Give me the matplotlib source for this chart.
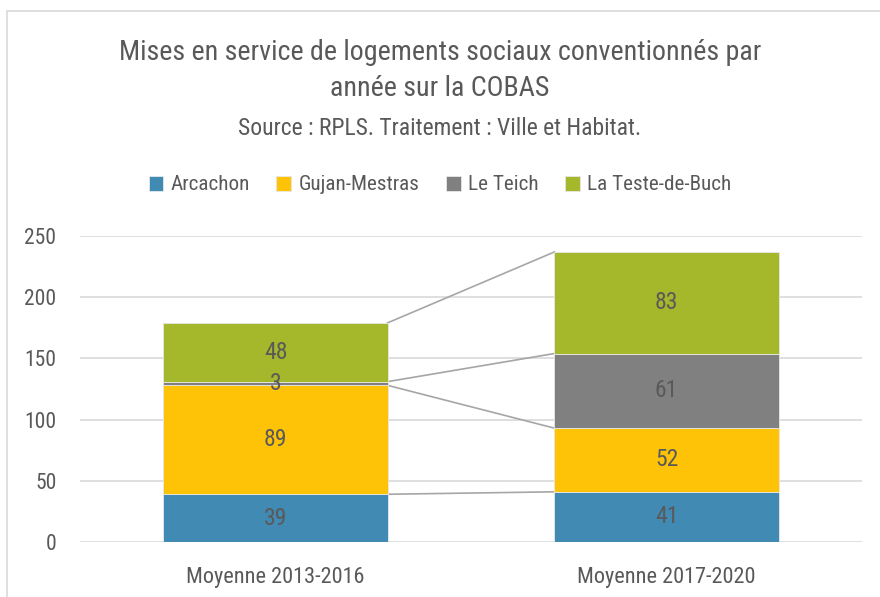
import numpy as np
import matplotlib.pyplot as plt
from matplotlib.patches import Rectangle

plt.rcParams['font.family'] = ['Roboto Condensed', 'Liberation Sans Narrow',
                               'Liberation Sans', 'DejaVu Sans']

categories = ['Moyenne 2013-2016', 'Moyenne 2017-2020']
series = ['Arcachon', 'Gujan-Mestras', 'Le Teich', 'La Teste-de-Buch']
values = {
    'Arcachon': [39, 41],
    'Gujan-Mestras': [89, 52],
    'Le Teich': [3, 61],
    'La Teste-de-Buch': [48, 83],
}
colors = ['#418AB3', '#FEC306', '#808080', '#A5B72A']
yticks = [0, 50, 100, 150, 200, 250]

txt = '#595959'
fig = plt.figure(figsize=(8.8, 5.97), dpi=100)
fig.patches.append(Rectangle((7 / 880, -0.1), 1.2, 1 - 11 / 597 + 0.1,
                             transform=fig.transFigure, fill=False,
                             edgecolor='#D9D9D9', linewidth=1.2))

ax = fig.add_axes([80 / 880, 1 - 542 / 597, 782 / 880, 306 / 597])
x = np.arange(len(categories))
width = 0.573
bottom = np.zeros(len(categories))
tops = []
for name, col in zip(series, colors):
    v = np.array(values[name], dtype=float)
    ax.bar(x, v, width, bottom=bottom, color=col, edgecolor='#E8E8E8',
           linewidth=0.6, zorder=3, label=name)
    for xi, vi, bi in zip(x, v, bottom):
        ax.text(xi, bi + vi / 2, f'{int(vi)}', ha='center', va='center',
                fontsize=17, color=txt, zorder=5)
    bottom = bottom + v
    tops.append(bottom.copy())

# series lines between the bars
for t in tops:
    ax.plot([x[0] + width / 2, x[1] - width / 2], [t[0], t[1]],
            color='#A6A6A6', linewidth=1.2, zorder=2)

ax.set_xlim(-0.5, 1.5)
ax.set_ylim(0, 250)
ax.set_yticks(yticks)
ax.set_xticks(x)
ax.set_xticklabels(categories)
ax.yaxis.grid(True, color='#D9D9D9', linewidth=1.2, zorder=0)
ax.set_axisbelow(True)
for s in ax.spines.values():
    s.set_visible(False)
ax.tick_params(length=0, labelsize=15.5, colors=txt)
ax.tick_params(axis='x', labelsize=16, pad=18)
ax.tick_params(axis='y', pad=17)

fig.text(0.5, 1 - 53 / 597, 'Mises en service de logements sociaux conventionnés par',
         ha='center', va='center', fontsize=20.2, color=txt)
fig.text(0.5, 1 - 89 / 597, 'année sur la COBAS',
         ha='center', va='center', fontsize=20.2, color=txt)
fig.text(0.5, 1 - 129 / 597, 'Source : RPLS. Traitement : Ville et Habitat.',
         ha='center', va='center', fontsize=17, color=txt)

fig.legend(*ax.get_legend_handles_labels(), loc='center', ncol=4,
           bbox_to_anchor=(0.5, 1 - 185 / 597), frameon=False, fontsize=15.2,
           handlelength=0.7, handleheight=0.7, handletextpad=0.35,
           columnspacing=1.25, labelcolor=txt)

fig.savefig('out.png', dpi=100)
